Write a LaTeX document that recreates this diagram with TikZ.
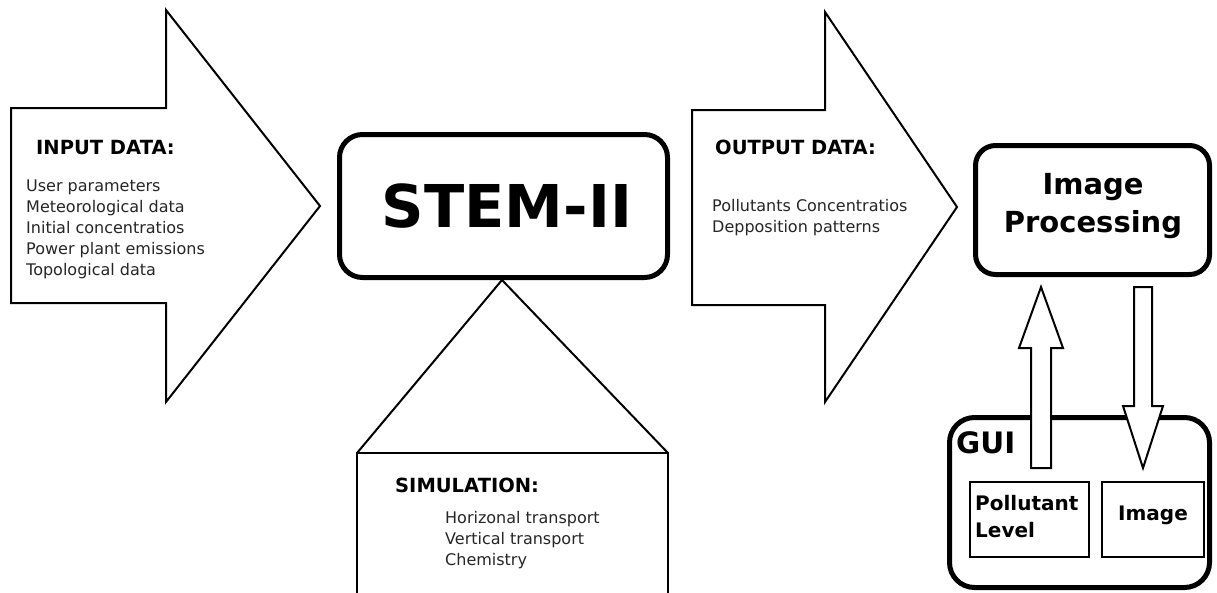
\documentclass[tikz,border=0pt]{standalone}
\usepackage{fontspec}
\setmainfont{DejaVu Sans}
\begin{document}
\begin{tikzpicture}[x=1pt,y=-1pt,
  outl/.style={draw=black,line width=2pt,line join=miter,fill=white},
  heavybox/.style={draw=black,line width=5pt,rounded corners=#1,fill=white},
  thinbox/.style={draw=black,line width=2pt,fill=white},
  headtxt/.style={inner sep=0pt,anchor=base west,font=\bfseries\fontsize{19.5}{19.5}\selectfont},
  itemtxt/.style={inner sep=0pt,anchor=base west,text=black!85,font=\fontsize{16}{16}\selectfont},
  titletxt/.style={inner sep=0pt,anchor=base,font=\bfseries\fontsize{29}{29}\selectfont},
  smalltxt/.style={inner sep=0pt,anchor=base west,font=\bfseries\fontsize{20}{20}\selectfont}]
\useasboundingbox (0,0) rectangle (1217,592);
% input arrow
\draw[outl] (11,108) -- (166,108) -- (166,10) -- (320,206) -- (166,402) -- (166,303) -- (11,303) -- cycle;
\node[headtxt] (inh) at (36,154) {INPUT DATA:};
\node[itemtxt] (in1) at (26,191) {User parameters};
\node[itemtxt] (in2) at (26,212) {Meteorological data};
\node[itemtxt] (in3) at (26,233) {Initial concentratios};
\node[itemtxt] (in4) at (26,254) {Power plant emissions};
\node[itemtxt] (in5) at (26,275) {Topological data};
% STEM-II
\draw[heavybox=23pt] (339.5,134.5) rectangle (667.5,277.5);
\node[inner sep=0pt,anchor=base,font=\bfseries\fontsize{59}{59}\selectfont] (stem) at (507,227) {STEM-II};
% simulation
\coordinate (apex) at (502,280);
\draw[outl] (357,453) -- (apex) -- (668,453);
\draw[outl] (357,600) -- (357,453) -- (668,453) -- (668,600);
\node[headtxt] (simh) at (395,492) {SIMULATION:};
\node[itemtxt] (s1) at (445,523) {Horizonal transport};
\node[itemtxt] (s2) at (445,544) {Vertical transport};
\node[itemtxt] (s3) at (445,565) {Chemistry};
% output arrow
\draw[outl] (692,110) -- (825,110) -- (825,12) -- (957,207) -- (825,402) -- (825,305) -- (692,305) -- cycle;
\node[headtxt] (outh) at (715,154) {OUTPUT DATA:};
\node[itemtxt] (o1) at (712,211) {Pollutants Concentratios};
\node[itemtxt] (o2) at (712,232) {Depposition patterns};
% image processing
\draw[heavybox=20pt] (975.5,145.5) rectangle (1209.5,274.5);
\node[titletxt] (ip1) at (1093,194) {Image};
\node[titletxt] (ip2) at (1093,232) {Processing};
% GUI
\draw[heavybox=25pt] (949.5,417.5) rectangle (1209.5,587.5);
\node[inner sep=0pt,anchor=base west,font=\bfseries\fontsize{29.5}{29.5}\selectfont] (gui) at (956,453) {GUI};
\draw[thinbox] (970,482) rectangle (1089,557);
\draw[thinbox] (1102,482) rectangle (1204,557);
\node[smalltxt] (pl1) at (975,510) {Pollutant};
\node[smalltxt] (pl2) at (975,537) {Level};
\node[smalltxt,anchor=base] (img) at (1153,520) {Image};
% up / down arrows
\draw[outl] (1031,468) -- (1031,348) -- (1019,348) -- (1041,287) -- (1063,348) -- (1051,348) -- (1051,468) -- cycle;
\draw[outl] (1134,287) -- (1152,287) -- (1152,406) -- (1163,406) -- (1143,468) -- (1123,406) -- (1134,406) -- cycle;
\end{tikzpicture}
\end{document}
